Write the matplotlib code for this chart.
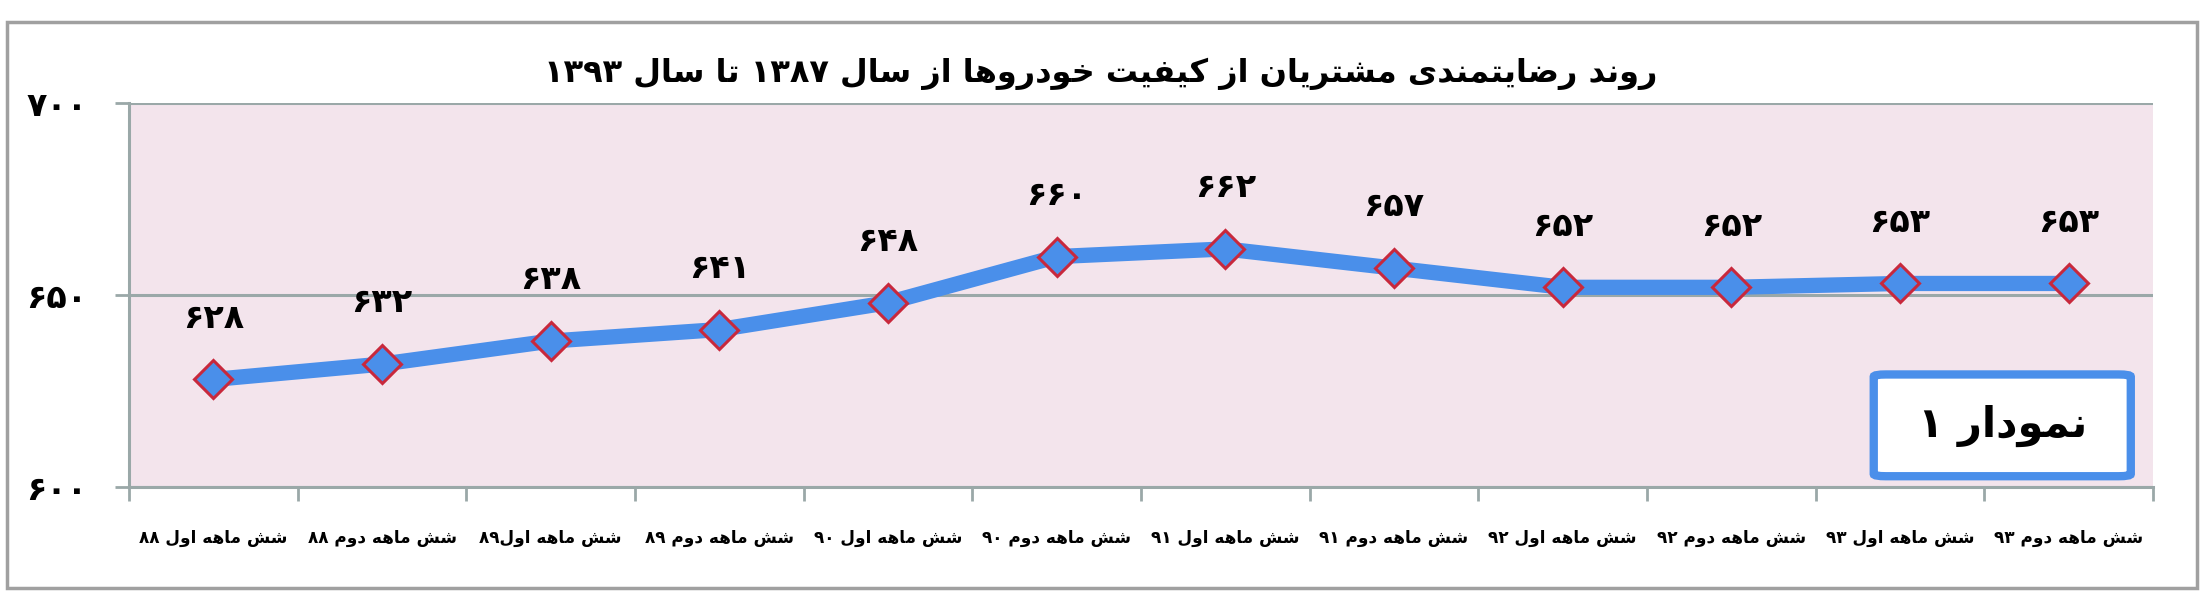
import matplotlib
matplotlib.use("Agg")
import matplotlib.pyplot as plt
from matplotlib.patches import FancyBboxPatch

plt.rcParams['font.family'] = ['DejaVu Sans']

# data
title = 'روند رضایتمندی مشتریان از کیفیت خودروها از سال ۱۳۸۷ تا سال ۱۳۹۳'
box_text = 'نمودار ۱'
periods = ['شش ماهه اول ۸۸', 'شش ماهه دوم ۸۸', 'شش ماهه اول۸۹', 'شش ماهه دوم ۸۹',
           'شش ماهه اول ۹۰', 'شش ماهه دوم ۹۰', 'شش ماهه اول ۹۱', 'شش ماهه دوم ۹۱',
           'شش ماهه اول ۹۲', 'شش ماهه دوم ۹۲', 'شش ماهه اول ۹۳', 'شش ماهه دوم ۹۳']
scores = [628, 632, 638, 641, 648, 660, 662, 657, 652, 652, 653, 653]
yticks = [600, 650, 700]

# minimal arabic shaping (matplotlib has no text shaping)
FORMS = {
    '\u0627': ('\uFE8D', '\uFE8E'),
    '\u062F': ('\uFEA9', '\uFEAA'),
    '\u0631': ('\uFEAD', '\uFEAE'),
    '\u0632': ('\uFEAF', '\uFEB0'),
    '\u0648': ('\uFEED', '\uFEEE'),
    '\u0649': ('\uFEEF', '\uFEF0'),
    '\u062A': ('\uFE95', '\uFE96', '\uFE97', '\uFE98'),
    '\u062E': ('\uFEA5', '\uFEA6', '\uFEA7', '\uFEA8'),
    '\u0633': ('\uFEB1', '\uFEB2', '\uFEB3', '\uFEB4'),
    '\u0634': ('\uFEB5', '\uFEB6', '\uFEB7', '\uFEB8'),
    '\u0636': ('\uFEBD', '\uFEBE', '\uFEBF', '\uFEC0'),
    '\u0641': ('\uFED1', '\uFED2', '\uFED3', '\uFED4'),
    '\u0643': ('\uFED9', '\uFEDA', '\uFEDB', '\uFEDC'),
    '\u0644': ('\uFEDD', '\uFEDE', '\uFEDF', '\uFEE0'),
    '\u0645': ('\uFEE1', '\uFEE2', '\uFEE3', '\uFEE4'),
    '\u0646': ('\uFEE5', '\uFEE6', '\uFEE7', '\uFEE8'),
    '\u0647': ('\uFEE9', '\uFEEA', '\uFEEB', '\uFEEC'),
    '\u064A': ('\uFEF1', '\uFEF2', '\uFEF3', '\uFEF4'),
    '\u06A9': ('\uFB8E', '\uFB8F', '\uFB90', '\uFB91'),
    '\u06CC': ('\uFBFC', '\uFBFD', '\uFBFE', '\uFBFF'),
}


def shape_run(s):
    out = []
    for i, ch in enumerate(s):
        f = FORMS[ch]
        prev_joins = i > 0 and len(FORMS[s[i - 1]]) == 4
        next_joins = len(f) == 4 and i + 1 < len(s)
        if prev_joins and next_joins:
            out.append(f[3])
        elif prev_joins:
            out.append(f[1])
        elif next_joins:
            out.append(f[2])
        else:
            out.append(f[0])
    return ''.join(reversed(out))


def word_runs(w):
    runs, cur, cur_ar = [], '', None
    for ch in w:
        is_ar = ch in FORMS
        if cur and is_ar != cur_ar:
            runs.append(shape_run(cur) if cur_ar else cur)
            cur = ''
        cur += ch
        cur_ar = is_ar
    if cur:
        runs.append(shape_run(cur) if cur_ar else cur)
    return runs


def rtl(text):
    return ' '.join(''.join(reversed(word_runs(w))) for w in reversed(text.split(' ')))


def fa(n):
    return str(n).translate(str.maketrans('0123456789', '۰۱۲۳۴۵۶۷۸۹'))


blue = '#4A8FEA'
red = '#C8283C'
grid = '#9AA8A8'

fig = plt.figure(figsize=(22.06, 5.93), dpi=100)
fig.patches.append(FancyBboxPatch((0.003, 0.008), 0.993, 0.955, boxstyle='square,pad=0',
                                  transform=fig.transFigure, fill=False,
                                  edgecolor='#A0A0A0', linewidth=2.5))

ax = fig.add_axes([0.0585, 0.1788, 0.9175, 0.6475])
ax.set_facecolor('#F3E4EC')
x = list(range(len(scores)))
ax.plot(x, scores, color=blue, linewidth=11, marker='D', markersize=19,
        markerfacecolor=blue, markeredgecolor=red, markeredgewidth=2.2, zorder=3)

for xi, v in zip(x, scores):
    ax.annotate(fa(v), (xi, v), xytext=(0, 44), textcoords='offset points',
                ha='center', va='center', fontsize=24, fontweight='bold')

ax.set_xlim(-0.5, len(scores) - 0.5)
ax.set_ylim(600, 700)
ax.set_yticks(yticks)
ax.set_yticklabels([fa(t) for t in yticks], fontsize=24, fontweight='bold')
ax.tick_params(axis='y', length=10, width=2, color=grid, pad=20)

ax.set_xticks([i - 0.5 for i in range(len(scores) + 1)])
ax.set_xticklabels([])
ax.set_xticks(x, minor=True)
ax.set_xticklabels([rtl(p) for p in periods], minor=True, fontsize=12.2, fontweight='bold')
ax.tick_params(axis='x', which='major', length=10, width=2, color=grid)
ax.tick_params(axis='x', which='minor', length=0, pad=30)

ax.yaxis.grid(True, color=grid, linewidth=2.2)
ax.set_axisbelow(True)
for s in ['top', 'right']:
    ax.spines[s].set_visible(False)
for s in ['left', 'bottom']:
    ax.spines[s].set_color(grid)
    ax.spines[s].set_linewidth(2.2)

box = FancyBboxPatch((0.862, 0.028), 0.127, 0.265, boxstyle='round,pad=0,rounding_size=0.006',
                     transform=ax.transAxes, facecolor='white', edgecolor=blue,
                     linewidth=6, zorder=4)
ax.add_patch(box)
ax.text(0.9255, 0.16, rtl(box_text), transform=ax.transAxes, ha='center', va='center',
        fontsize=30, fontweight='bold', zorder=5)

fig.text(0.499, 0.875, rtl(title), ha='center', va='center', fontsize=23, fontweight='bold')

fig.savefig('out.png', dpi=100)
